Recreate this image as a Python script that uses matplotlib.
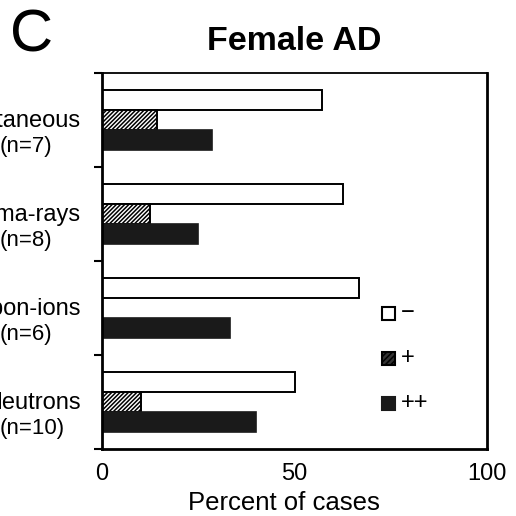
import matplotlib
matplotlib.use("Agg")
import matplotlib.pyplot as plt
import numpy as np
from matplotlib.patches import Rectangle

plt.rcParams['font.family'] = ['Liberation Sans', 'DejaVu Sans']
plt.rcParams['hatch.linewidth'] = 1.1

names = ["Spontaneous", "Gamma-rays", "Carbon-ions", "Neutrons"]
counts = ["(n=7)", "(n=8)", "(n=6)", "(n=10)"]
neg = [57.1, 62.5, 66.7, 50.0]
pos = [14.3, 12.5, 0.0, 10.0]
pospos = [28.6, 25.0, 33.3, 40.0]
legend_labels = ["\u2212", "+", "++"]
xticks = [0, 50, 100]

fig = plt.figure(figsize=(5.16, 5.16), dpi=100)
ax = fig.add_axes([102/516, 1 - 449/516, (487-102)/516, (449-73)/516])

y = np.arange(len(names))
h = 0.21
ax.barh(y - h, neg, height=h, color='white', edgecolor='black', linewidth=1.4)
ax.barh(y, pos, height=h, color='white', edgecolor='black', linewidth=1.4, hatch='////////')
ax.barh(y + h, pospos, height=h, color='#1a1a1a', edgecolor='#1a1a1a', linewidth=1.2)

ax.set_ylim(len(names) - 0.5, -0.5)
ax.set_xlim(0, 100)
ax.set_yticks(np.arange(len(names) + 1) - 0.5)
ax.set_yticklabels([])
for i, (nm, cn) in enumerate(zip(names, counts)):
    ax.annotate(nm, xy=(0, i), xycoords=('axes fraction', 'data'),
                xytext=(-21, -7), textcoords='offset pixels',
                ha='right', va='baseline', fontsize=17)
    ax.annotate(cn, xy=(0, i), xycoords=('axes fraction', 'data'),
                xytext=(-102, -32), textcoords='offset pixels',
                ha='left', va='baseline', fontsize=16)
ax.tick_params(axis='y', direction='out', length=6, width=1.5)
ax.set_xticks(xticks)
ax.set_xticklabels([str(v) for v in xticks], fontsize=17)
ax.tick_params(axis='x', length=0, pad=10)

for s in ['left', 'bottom', 'right']:
    ax.spines[s].set_linewidth(2)
ax.spines['top'].set_linewidth(1.3)

# legend
leg_y = [313, 358, 403]
styles = [dict(facecolor='white', edgecolor='black'),
          dict(facecolor='#333333', edgecolor='black', hatch='//////'),
          dict(facecolor='#1a1a1a', edgecolor='#1a1a1a')]
for yy, lab, st in zip(leg_y, legend_labels, styles):
    fig.patches.append(Rectangle((382/516, 1 - (yy+7)/516), 13/516, 13/516,
                                 transform=fig.transFigure, linewidth=1.5, **st))
    fig.text(401/516, 1 - yy/516, lab, fontsize=17, ha='left', va='center')

fig.text(284/516, 1 - 510/516, "Percent of cases", fontsize=18.5, ha='center', va='baseline')
fig.text(294.5/516, 1 - 50/516, "Female AD", fontsize=24.5, fontweight='bold', ha='center', va='baseline')
fig.text(10/516, 1 - 52/516, "C", fontsize=43, ha='left', va='baseline')

fig.savefig("out.png", dpi=100)
